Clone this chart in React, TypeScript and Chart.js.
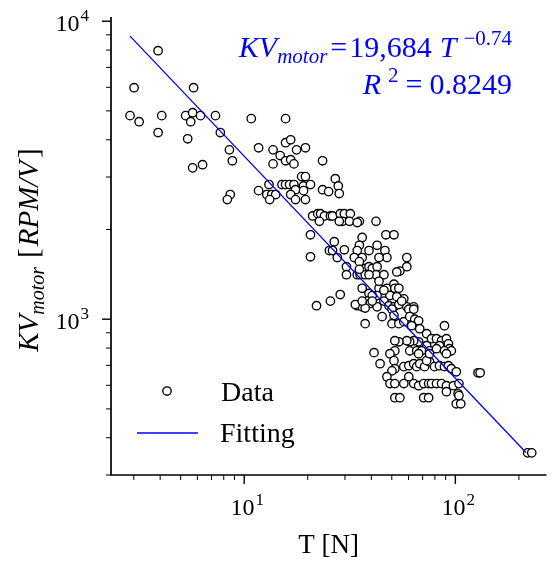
import React, { useEffect, useRef } from "react";
import { Chart, registerables } from "chart.js";

Chart.register(...registerables);

// ---- data ----
const torqueN = [
  3.91, 3.01, 5.76, 2.88, 3.18, 4.07, 5.28, 5.7, 5.58, 6.21, 7.31, 3.91, 5.4, 7.71, 8.51, 8.79, 5.7, 6.35, 8.59, 8.32,
  10.8, 15.7, 11.7, 15.7, 16.6, 13.7, 17.7, 19.5, 14.8, 15.7, 16.6, 17.2, 13.7, 23.5, 18.7, 19.5, 13.1, 15.1, 15.7, 16.4,
  17.2, 19.1, 20.6, 11.7, 17.5, 19.1, 23.5, 25.1, 27.0, 27.9, 12.8, 13.5, 14.1, 16.6, 13.2, 17.5, 19.5, 28.2,
  21.1, 22.3, 23.0, 24.0, 25.6, 26.2, 28.5, 29.8, 31.8, 29.2, 31.5, 28.2, 35.1, 34.3, 22.7, 42.1, 20.6, 20.6, 46.9, 51.2,
  26.7, 25.3, 26.2, 29.8, 27.6, 36.2, 35.1, 39.0, 42.6, 46.4, 47.4, 43.5, 34.3, 36.2, 33.2, 35.1, 58.9, 58.9, 54.6, 52.8,
  30.5, 30.5, 34.3, 35.4, 37.4, 39.0, 40.4, 42.6, 42.1, 45.9, 37.4, 39.0, 35.1,
  36.2, 39.0, 43.5, 47.4, 51.2, 51.7, 54.0, 57.0, 49.0, 42.6, 40.4, 38.2, 28.5, 25.6, 22.0, 34.3, 36.2, 39.5, 42.6, 45.9,
  48.5, 51.2, 54.0, 58.9, 63.5, 43.5, 45.9, 52.8, 55.7, 45.0, 50.1, 51.2, 50.1, 54.0, 57.0, 60.2, 63.5, 60.8, 64.2, 67.0,
  67.8, 62.1, 88.8, 33.6, 37.4, 37.4, 36.2, 40.4,
  73.1, 77.1, 81.4, 86.0, 90.7, 92.7, 93.7, 84.1, 73.1, 67.0, 63.5, 60.8, 58.9, 54.0, 51.7, 51.7, 60.8, 65.6, 69.2, 75.5,
  81.4, 88.8, 95.7, 41.2, 44.0, 49.0, 51.2, 51.7, 50.1, 57.0, 60.2, 63.5, 65.6, 67.8, 71.5, 75.5, 79.7, 84.1, 88.8, 92.7,
  95.7, 101, 73.1, 75.5, 67.0, 90.7, 47.4, 49.0, 51.7, 57.0, 60.2, 63.5, 67.0, 70.8, 74.7, 77.1, 81.4, 86.0, 90.7, 97.9,
  104, 90.7, 103, 51.7, 54.6, 70.8, 74.7, 101, 106, 128, 104, 220, 230, 131,
];

const kvRpmPerV = [
  7960, 5980, 5980, 4820, 4600, 4820, 4820, 4930, 4600, 4820, 4820, 4230, 4030, 4230, 3700, 3400, 3220, 3300, 2620, 2520,
  4710, 4710, 3760, 3910, 4000, 3700, 3700, 3760, 3540, 3400, 3430, 3320, 3320, 3400, 3010, 3010, 2830, 2830, 2830, 2830,
  2830, 2800, 2830, 2700, 2720, 2700, 2720, 2680, 2960, 2800, 2620, 2620, 2620, 2620, 2520, 2520, 2520, 2640,
  2220, 2260, 2260, 2220, 2220, 2220, 2260, 2260, 2260, 2130, 2130, 2130, 2130, 2110, 2130, 2130, 1920, 1620, 1920, 1920,
  1820, 1700, 1700, 1710, 1610, 1880, 1770, 1700, 1770, 1700, 1610, 1610, 1700, 1610, 1610, 1560, 1610, 1500, 1450, 1440,
  1500, 1410, 1410, 1410, 1480, 1500, 1480, 1500, 1410, 1410, 1410, 1410, 1470,
  1270, 1220, 1270, 1270, 1310, 1270, 1270, 1170, 1200, 1200, 1200, 1150, 1210, 1150, 1110, 1110, 1100, 1130, 1100, 1150,
  1110, 1100, 1120, 1100, 1100, 1340, 1250, 1190, 1150, 1020, 1080, 1030, 966, 966, 981, 1080, 1080, 1020, 1000, 988,
  929, 951, 951, 1120, 1090, 966, 1150, 1150,
  894, 860, 860, 847, 860, 827, 796, 815, 815, 840, 847, 840, 847, 840, 847, 783, 783, 783, 783, 783,
  796, 783, 783, 772, 709, 766, 726, 682, 671, 693, 698, 709, 693, 709, 693, 720, 693, 698, 693, 698,
  682, 666, 726, 766, 766, 766, 641, 608, 608, 608, 641, 608, 598, 608, 608, 608, 608, 608, 598, 598,
  608, 571, 562, 545, 545, 545, 545, 520, 520, 661, 554, 356, 356, 661,
];

const fitTorqueN = [2.88, 216];
const fitKv = [8910, 357];

const xMajorTicks = [10, 100];
const xMinorTicks = [3, 4, 5, 6, 7, 8, 9, 20, 30, 40, 50, 60, 70, 80, 90, 200];
const yMajorTicks = [1000, 10000];
const yMinorTicks = [300, 400, 500, 600, 700, 800, 900, 2000, 3000, 4000, 5000, 6000, 7000, 8000, 9000];
const xTickExponents = ["1", "2"];
const yTickExponents = ["3", "4"];
const legendLabels = ["Data", "Fitting"];
const fitCoefficient = "19,684";
const fitExponent = "\u22120.74";
const rSquared = "0.8249";

const SERIF = '"Liberation Serif", "Times New Roman", serif';
const font = (size: number, italic = false) => `${italic ? "italic " : ""}${size}px ${SERIF}`;

type Seg = { t: string; f: string; dy?: number; gap?: number };

function drawRich(ctx: CanvasRenderingContext2D, segs: Seg[], x: number, y: number, align: "left" | "right" | "center") {
  let w = 0;
  for (const s of segs) {
    ctx.font = s.f;
    w += ctx.measureText(s.t).width + (s.gap || 0);
  }
  let cx = align === "left" ? x : align === "right" ? x - w : x - w / 2;
  for (const s of segs) {
    ctx.font = s.f;
    cx += s.gap || 0;
    ctx.fillText(s.t, cx, y + (s.dy || 0));
    cx += ctx.measureText(s.t).width;
  }
}

const MARKER_R = 4.2;
const MARKER_W = 1.35;

const decorPlugin = {
  id: "decor",
  beforeDatasetsDraw(chart: any) {
    const { ctx, chartArea: a } = chart;
    const xs = chart.scales.x;
    const ys = chart.scales.y;
    ctx.save();
    ctx.strokeStyle = "#000";
    ctx.fillStyle = "#000";
    const tick = (x1: number, y1: number, x2: number, y2: number, w: number) => {
      ctx.lineWidth = w;
      ctx.beginPath();
      ctx.moveTo(x1, y1);
      ctx.lineTo(x2, y2);
      ctx.stroke();
    };
    for (const v of xMinorTicks) {
      const p = xs.getPixelForValue(v);
      tick(p, a.bottom, p, a.bottom + 5, 1);
    }
    for (const v of xMajorTicks) {
      const p = xs.getPixelForValue(v);
      tick(p, a.bottom, p, a.bottom + 9, 1.4);
    }
    for (const v of yMinorTicks) {
      const p = ys.getPixelForValue(v);
      tick(a.left, p, a.left - 5, p, 1);
    }
    for (const v of yMajorTicks) {
      const p = ys.getPixelForValue(v);
      tick(a.left - 9, p, a.left, p, 1.4);
    }
    ctx.lineWidth = 1.7;
    ctx.beginPath();
    ctx.moveTo(a.left, a.top);
    ctx.lineTo(a.left, a.bottom);
    ctx.lineTo(a.right, a.bottom);
    ctx.stroke();

    ctx.textBaseline = "alphabetic";
    xMajorTicks.forEach((v, i) => {
      const p = xs.getPixelForValue(v);
      drawRich(ctx, [
        { t: "10", f: font(24) },
        { t: xTickExponents[i], f: font(17), dy: -10, gap: 1 },
      ], p + 3, a.bottom + 40, "center");
    });
    yMajorTicks.forEach((v, i) => {
      const p = ys.getPixelForValue(v);
      drawRich(ctx, [
        { t: "10", f: font(24) },
        { t: yTickExponents[i], f: font(17), dy: -10, gap: 1 },
      ], a.left - 22, p + 10, "right");
    });

    drawRich(ctx, [{ t: "T [N]", f: font(27) }], (a.left + a.right) / 2, 553, "center");
    ctx.save();
    ctx.translate(38, 250);
    ctx.rotate(-Math.PI / 2);
    drawRich(ctx, [
      { t: "KV", f: font(29, true) },
      { t: "motor", f: font(20, true), dy: 6 },
      { t: "[", f: font(29), gap: 9 },
      { t: "RPM/V", f: font(29, true), gap: 2 },
      { t: "]", f: font(29), gap: 3 },
    ], 0, 0, "center");
    ctx.restore();
    ctx.restore();
  },
  afterDatasetsDraw(chart: any) {
    const { ctx } = chart;
    ctx.save();
    ctx.fillStyle = "#fff";
    ctx.strokeStyle = "#000";
    ctx.lineWidth = MARKER_W;
    ctx.beginPath();
    ctx.arc(167, 391, MARKER_R, 0, Math.PI * 2);
    ctx.fill();
    ctx.stroke();
    ctx.strokeStyle = "#0000ff";
    ctx.lineWidth = 1.3;
    ctx.beginPath();
    ctx.moveTo(137, 433);
    ctx.lineTo(198, 433);
    ctx.stroke();
    ctx.fillStyle = "#000";
    ctx.textBaseline = "alphabetic";
    drawRich(ctx, [{ t: legendLabels[0], f: font(28) }], 221, 401, "left");
    drawRich(ctx, [{ t: legendLabels[1], f: font(28) }], 220, 442, "left");

    ctx.fillStyle = "#0000ff";
    drawRich(ctx, [
      { t: "KV", f: font(30, true) },
      { t: "motor", f: font(21, true), dy: 6 },
      { t: "=", f: font(30), gap: 3 },
      { t: fitCoefficient, f: font(30), gap: 2 },
      { t: "T", f: font(30, true), gap: 8 },
      { t: fitExponent, f: font(21), dy: -12, gap: 7 },
    ], 512, 57, "right");
    drawRich(ctx, [
      { t: "R", f: font(30, true) },
      { t: "2", f: font(21), dy: -12, gap: 7 },
      { t: "=", f: font(30), gap: 7 },
      { t: rSquared, f: font(30), gap: 7 },
    ], 512, 94, "right");
    ctx.restore();
  },
};

export default function App() {
  const ref = useRef<HTMLCanvasElement | null>(null);
  useEffect(() => {
    if (!ref.current) return;
    const points = torqueN.map((t, i) => ({ x: t, y: kvRpmPerV[i] }));
    const fit = fitTorqueN.map((t, i) => ({ x: t, y: fitKv[i] }));
    const chart = new Chart(ref.current, {
      type: "scatter",
      data: {
        datasets: [
          {
            label: legendLabels[0],
            data: points,
            pointRadius: MARKER_R,
            pointBorderWidth: MARKER_W,
            pointBackgroundColor: "#ffffff",
            pointBorderColor: "#000000",
            showLine: false,
            order: 1,
            clip: false,
          },
          {
            label: legendLabels[1],
            data: fit,
            showLine: true,
            borderColor: "#0000ff",
            borderWidth: 1.3,
            pointRadius: 0,
            fill: false,
            order: 0,
            clip: false,
          },
        ],
      } as any,
      options: {
        animation: false,
        responsive: false,
        layout: { padding: { left: 111, right: 1, top: 17, bottom: 86 } },
        scales: {
          x: { type: "logarithmic", min: 2.34, max: 270, display: false },
          y: { type: "logarithmic", min: 300, max: 10330, display: false },
        },
        plugins: { legend: { display: false }, tooltip: { enabled: false } },
      } as any,
      plugins: [decorPlugin],
    });
    return () => chart.destroy();
  }, []);
  return (
    <div style={{ position: "fixed", left: 0, top: 0, width: 552, height: 561, background: "#fff" }}>
      <canvas ref={ref} width={552} height={561} style={{ display: "block", width: 552, height: 561 }} />
    </div>
  );
}
